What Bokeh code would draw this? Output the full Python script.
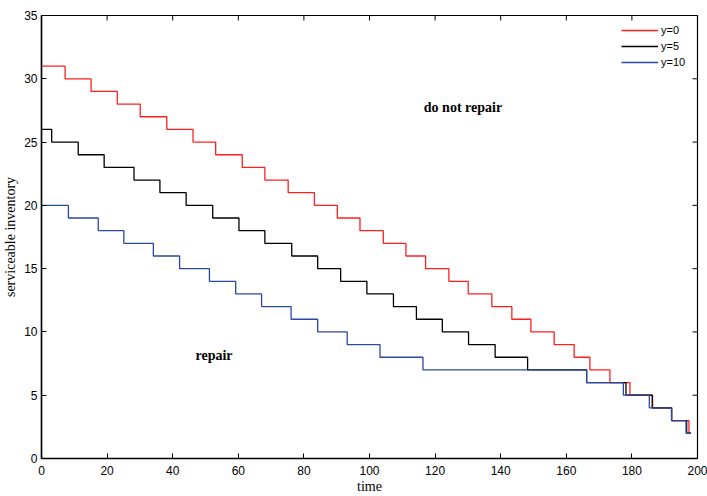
import math
from bokeh.plotting import figure
from bokeh.models import Range1d, Label, Legend, LegendItem, FixedTicker
from bokeh.embed import file_html
from bokeh.resources import INLINE

# ---- data ----
t_y0 = [0, 7.2, 15.1, 23.1, 30.1, 38.2, 46.2, 53.1, 61.2, 68.1, 75.2, 83.2, 90.2, 97.1,
        104.2, 111.1, 117.1, 124.2, 130.1, 137.3, 143.4, 149.2, 156.3, 162.4, 167.2,
        173.3, 179.4, 186.3, 192.1, 197.4, 198.0]
v_y0 = [31, 30, 29, 28, 27, 26, 25, 24, 23, 22, 21, 20, 19, 18, 17, 16, 15, 14, 13,
        12, 11, 10, 9, 8, 7, 6, 5, 4, 3, 2, 2]

t_y5 = [0, 3.1, 11.2, 19.1, 28.2, 36.1, 44.1, 52.2, 60.2, 68.1, 76.3, 84.2, 91.2, 99.2,
        107.3, 114.3, 122.2, 130.2, 138.3, 148.2, 166.2, 178.2, 186.2, 192.1, 196.7, 198.0]
v_y5 = [26, 25, 24, 23, 22, 21, 20, 19, 18, 17, 16, 15, 14, 13, 12, 11, 10, 9, 8, 7,
        6, 5, 4, 3, 2, 2]

t_y10 = [0, 8.2, 17.3, 25.1, 34.1, 42.1, 51.2, 59.2, 67.1, 76.1, 84.2, 93.2, 103.2,
         116.3, 166.2, 177.4, 185.3, 192.1, 196.5, 198.0]
v_y10 = [20, 19, 18, 17, 16, 15, 14, 13, 12, 11, 10, 9, 8, 7, 6, 5, 4, 3, 2, 2]

series_names = ["y=0", "y=5", "y=10"]
series_colors = ["#ff1f1f", "#000000", "#2a48a6"]

x_ticks = [0, 20, 40, 60, 80, 100, 120, 140, 160, 180, 200]
y_ticks = [0, 5, 10, 15, 20, 25, 30, 35]
x_min, x_max = 0, 200
y_min, y_max = 0, 35

p = figure(width=707, height=496, output_backend="svg", toolbar_location=None,
           x_range=Range1d(x_min, x_max), y_range=Range1d(y_min, y_max),
           min_border_left=41, min_border_right=10, min_border_top=15, min_border_bottom=38)
p.grid.visible = False
p.outline_line_color = "black"
p.outline_line_width = 1.2

renderers = []
for t, v, c in zip([t_y0, t_y5, t_y10], [v_y0, v_y5, v_y10], series_colors):
    r = p.step(t, v, mode="after", line_color=c, line_width=1.3)
    renderers.append(r)

for ax in p.xaxis + p.yaxis:
    ax.major_tick_in = 5
    ax.major_tick_out = 0
    ax.minor_tick_in = 0
    ax.minor_tick_out = 0
    ax.axis_line_width = 1.5
    ax.major_label_text_font = "Liberation Sans"
    ax.major_label_text_font_size = "12px"
    ax.major_label_text_color = "black"
    ax.axis_label_text_font = "Liberation Serif"
    ax.axis_label_text_font_size = "14px"
    ax.axis_label_text_font_style = "normal"
    ax.axis_label_text_color = "black"

p.xaxis.ticker = FixedTicker(ticks=x_ticks)
p.yaxis.ticker = FixedTicker(ticks=y_ticks)
p.xaxis.axis_label = "time"
p.yaxis.axis_label = "serviceable inventory"
p.xaxis.major_label_standoff = 7
p.yaxis.major_label_standoff = 4
p.xaxis.axis_label_standoff = 1
p.yaxis.axis_label_standoff = 3

# inward ticks on the right and top edges of the box
p.ray(x=[x_max] * len(y_ticks), y=y_ticks, length=5, length_units="screen",
      angle=math.pi, line_color="black", line_width=1)
p.ray(x=x_ticks, y=[y_max] * len(x_ticks), length=5, length_units="screen",
      angle=-math.pi / 2, line_color="black", line_width=1)

legend = Legend(items=[LegendItem(label=n, renderers=[r]) for n, r in zip(series_names, renderers)],
                location="top_right", border_line_alpha=0, background_fill_alpha=0,
                label_text_font="Liberation Sans", label_text_font_size="11px",
                label_text_color="black",
                glyph_width=37, glyph_height=14, spacing=2, padding=0, margin=8,
                label_standoff=3, label_height=13, label_width=28)
p.add_layout(legend, "center")

p.add_layout(Label(x=128.5, y=27.7, text="do not repair", text_align="center",
                   text_baseline="middle", text_font="Liberation Serif",
                   text_font_size="14px", text_font_style="bold", text_color="black"))
p.add_layout(Label(x=52.6, y=8.1, text="repair", text_align="center",
                   text_baseline="middle", text_font="Liberation Serif",
                   text_font_size="14px", text_font_style="bold", text_color="black"))

open("out.html", "w").write(file_html(p, INLINE))
